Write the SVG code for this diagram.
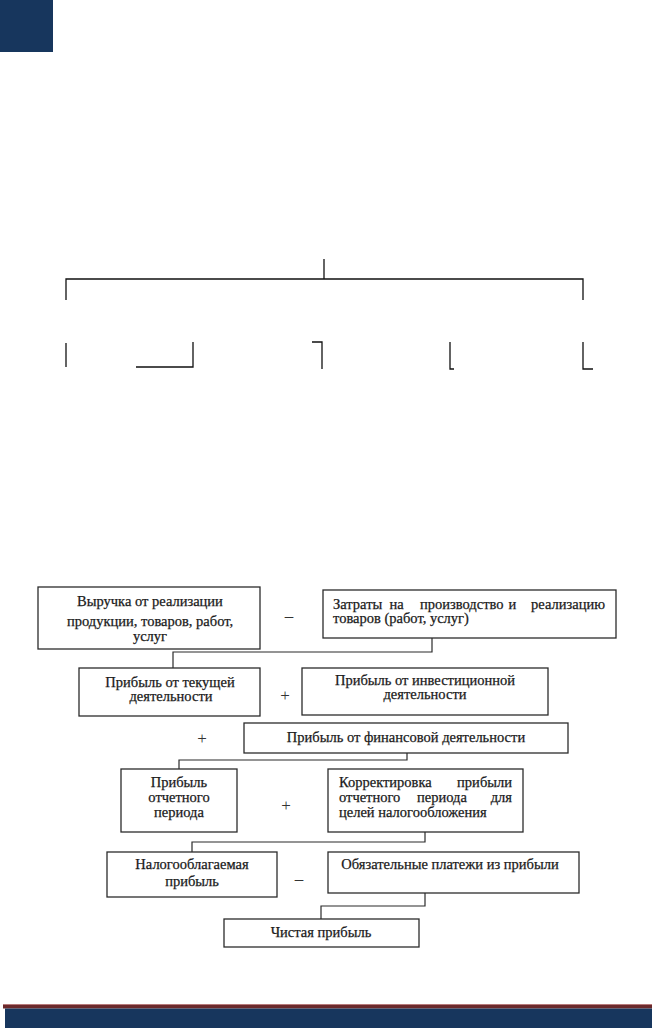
<svg xmlns="http://www.w3.org/2000/svg" width="652" height="1028" viewBox="0 0 652 1028">
<style>
.box{fill:#fff;stroke:#2b2b2b;stroke-width:1.3}
.t{font-family:"Liberation Serif","Times New Roman",serif;font-size:14.5px;fill:#1a1a1a;stroke:#1a1a1a;stroke-width:0.25}
.c{text-anchor:middle}
.op{font-family:"Liberation Serif","Times New Roman",serif;font-size:17px;fill:#333;text-anchor:middle}
.ln{fill:none;stroke:#111;stroke-width:1.3}
.cn{fill:none;stroke:#2b2b2b;stroke-width:1.2}
</style>
<rect x="0" y="0" width="53" height="52" fill="#17365d"/>
<g id="bracket">
<path class="ln" d="M324,259 V279"/>
<path class="ln" d="M66,300 V279 H583 V300"/>
<path class="ln" d="M66,343 V367"/>
<path class="ln" d="M136,367 H193 V342"/>
<path class="ln" d="M312,342 H322 V369"/>
<path class="ln" d="M450,342 V369 H454"/>
<path class="ln" d="M583,342 V369 H593"/>
</g>
<g id="connectors">
<path class="cn" d="M432,638 V652 H173 V668"/>
<path class="cn" d="M407,753 V760 H179 V769"/>
<path class="cn" d="M425,832 V842 H192 V852"/>
<path class="cn" d="M425,893 V906 H321 V919"/>
</g>
<g id="n-revenue">
<rect class="box" x="38" y="587" width="222" height="62"/>
<text class="t c" x="150" y="606">Выручка от реализации</text>
<text class="t c" x="150" y="626">продукции, товаров, работ,</text>
<text class="t c" x="150" y="641">услуг</text>
</g>
<g id="n-costs">
<rect class="box" x="323" y="590" width="293" height="48"/>
<text class="t" y="609"><tspan x="333">Затраты</tspan><tspan x="389.5">на</tspan><tspan x="420">производство</tspan><tspan x="508.5">и</tspan><tspan x="605" text-anchor="end">реализацию</tspan></text>
<text class="t" x="333" y="623">товаров (работ, услуг)</text>
</g>
<g id="n-current">
<rect class="box" x="79" y="668" width="181" height="48"/>
<text class="t c" x="170" y="687">Прибыль от текущей</text>
<text class="t c" x="171" y="701">деятельности</text>
</g>
<g id="n-invest">
<rect class="box" x="302" y="668" width="246" height="47"/>
<text class="t c" x="425" y="685">Прибыль от инвестиционной</text>
<text class="t c" x="425" y="699">деятельности</text>
</g>
<g id="n-finance">
<rect class="box" x="244" y="723" width="324" height="30"/>
<text class="t c" x="406" y="742">Прибыль от финансовой деятельности</text>
</g>
<g id="n-period">
<rect class="box" x="121" y="769" width="116" height="63"/>
<text class="t c" x="179" y="787">Прибыль</text>
<text class="t c" x="179" y="802">отчетного</text>
<text class="t c" x="179" y="817">периода</text>
</g>
<g id="n-adjust">
<rect class="box" x="328" y="769" width="195" height="63"/>
<text class="t" y="787"><tspan x="339">Корректировка</tspan><tspan x="512" text-anchor="end">прибыли</tspan></text>
<text class="t" y="802"><tspan x="339">отчетного</tspan><tspan x="417">периода</tspan><tspan x="512" text-anchor="end">для</tspan></text>
<text class="t" x="339" y="817">целей налогообложения</text>
</g>
<g id="n-taxable">
<rect class="box" x="107" y="852" width="170" height="45"/>
<text class="t c" x="192" y="869">Налогооблагаемая</text>
<text class="t c" x="192" y="886">прибыль</text>
</g>
<g id="n-payments">
<rect class="box" x="328" y="852" width="251" height="41"/>
<text class="t c" x="450" y="869">Обязательные платежи из прибыли</text>
</g>
<g id="n-net">
<rect class="box" x="224" y="919" width="195" height="28"/>
<text class="t c" x="321" y="937">Чистая прибыль</text>
</g>
<g id="operators">
<text class="op" x="289" y="621">–</text>
<text class="op" x="285" y="701">+</text>
<text class="op" x="202" y="744">+</text>
<text class="op" x="286" y="811">+</text>
<text class="op" x="299" y="884">–</text>
</g>
<rect x="3" y="1004" width="649" height="4.5" fill="#6b2a2c"/>
<rect x="3" y="1004" width="649" height="1" fill="#b77a7a"/>
<rect x="5" y="1008.5" width="647" height="19.5" fill="#17365d"/>
</svg>
